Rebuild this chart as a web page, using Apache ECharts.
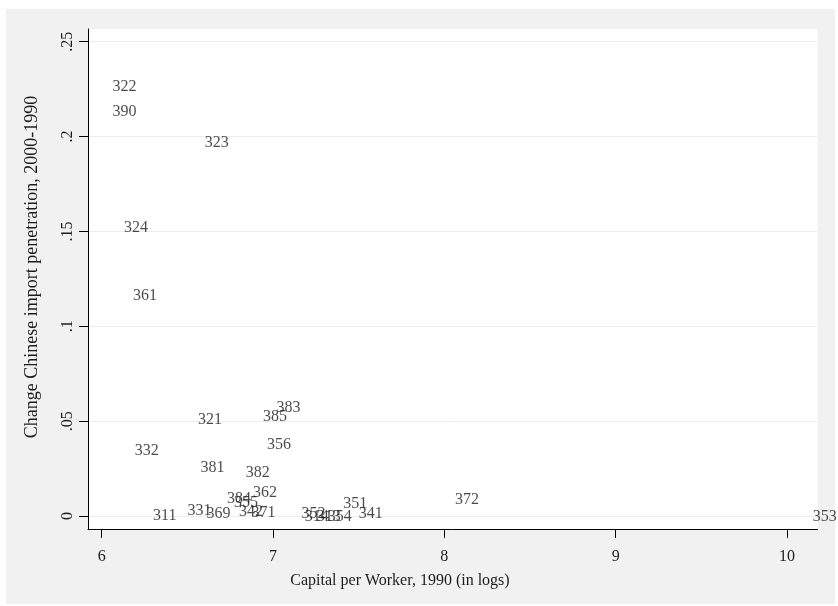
<!DOCTYPE html>
<html>
<head>
<meta charset="utf-8">
<script src="https://cdn.jsdelivr.net/npm/echarts@6/dist/echarts.min.js"></script>
<style>html,body{margin:0;padding:0;background:#fff;}#c{width:838px;height:606px;}</style>
</head>
<body>
<div id="c"></div>
<script>
// Industry codes (marker labels)
const codes = ['322','390','323','324','361','383','385','321','356','332','381','382','362','384','355','331','342','371','311','369','352','314','313','354','351','341','372','353'];
// Capital per worker, 1990 (in logs)
const capital = [6.045,6.045,6.584,6.113,6.165,7.003,6.924,6.545,6.948,6.175,6.559,6.823,6.866,6.714,6.755,6.483,6.784,6.857,6.282,6.594,7.149,7.168,7.238,7.302,7.392,7.483,8.044,10.133];
// Change in Chinese import penetration, 2000-1990
const importChange = [0.2263,0.2131,0.1968,0.1517,0.1161,0.0571,0.0523,0.0506,0.0378,0.0344,0.0255,0.0228,0.0123,0.0093,0.0070,0.0028,0.0023,0.0019,0.0000,0.0011,0.0014,-0.0004,-0.0004,-0.0004,0.0063,0.0011,0.0084,-0.0004];
const xTicks = [6,7,8,9,10];
const yTicks = [0,0.05,0.1,0.15,0.2,0.25];
const yTickLabels = ['0','.05','.1','.15','.2','.25'];
const xTitle = 'Capital per Worker, 1990 (in logs)';
const yTitle = 'Change Chinese import penetration, 2000-1990';

const FONT = '"Liberation Serif", "Times New Roman", serif';
const TXT = '#1c1c1c';
const data = codes.map((c,i)=>({value:[capital[i], importChange[i]], name:c}));

const chart = echarts.init(document.getElementById('c'), null, {renderer:'canvas'});
chart.setOption({
  backgroundColor:'#ffffff',
  animation:false,
  graphic:[
    {type:'rect', z:-100, silent:true, shape:{x:6,y:9,width:829,height:595}, style:{fill:'#f1f1f1'}},
    {type:'text', z:10, x:400, y:581, style:{text:xTitle, font:'16px '+FONT, fill:TXT, textAlign:'center', textVerticalAlign:'middle'}},
    {type:'text', z:10, x:32, y:267, rotation:Math.PI/2, style:{text:yTitle, font:'18px '+FONT, fill:TXT, textAlign:'center', textVerticalAlign:'middle'}}
  ],
  grid:{left:88, top:29, right:20.5, bottom:77, show:true, backgroundColor:'#ffffff', borderWidth:0, containLabel:false},
  xAxis:{
    type:'value', min:5.920, max:10.178,
    axisLine:{show:true, onZero:false, lineStyle:{color:'#000', width:1}},
    axisTick:{show:true, length:9, lineStyle:{color:'#000'}, customValues:xTicks},
    axisLabel:{customValues:xTicks, margin:20, fontFamily:FONT, fontSize:16, color:TXT, formatter:v=>String(v)},
    splitLine:{show:false}
  },
  yAxis:{
    type:'value', min:-0.0068, max:0.2567,
    axisLine:{show:true, onZero:false, lineStyle:{color:'#000', width:1}},
    axisTick:{show:true, length:9, lineStyle:{color:'#000'}, customValues:yTicks},
    axisLabel:{customValues:yTicks, rotate:90, margin:12, fontFamily:FONT, fontSize:16, color:TXT,
      formatter:v=>{const i=yTicks.findIndex(t=>Math.abs(t-v)<1e-9); return i>=0?yTickLabels[i]:'';}},
    splitLine:{show:true, lineStyle:{color:'#ededed', width:1}}
  },
  series:[{
    type:'scatter', data:data, symbol:'circle', symbolSize:1, clip:false,
    itemStyle:{color:'rgba(0,0,0,0)'},
    label:{show:true, position:'right', distance:2.5, formatter:p=>p.name, fontFamily:FONT, fontSize:16, color:TXT},
    labelLayout:{hideOverlap:false}
  }]
});
</script>
</body>
</html>
